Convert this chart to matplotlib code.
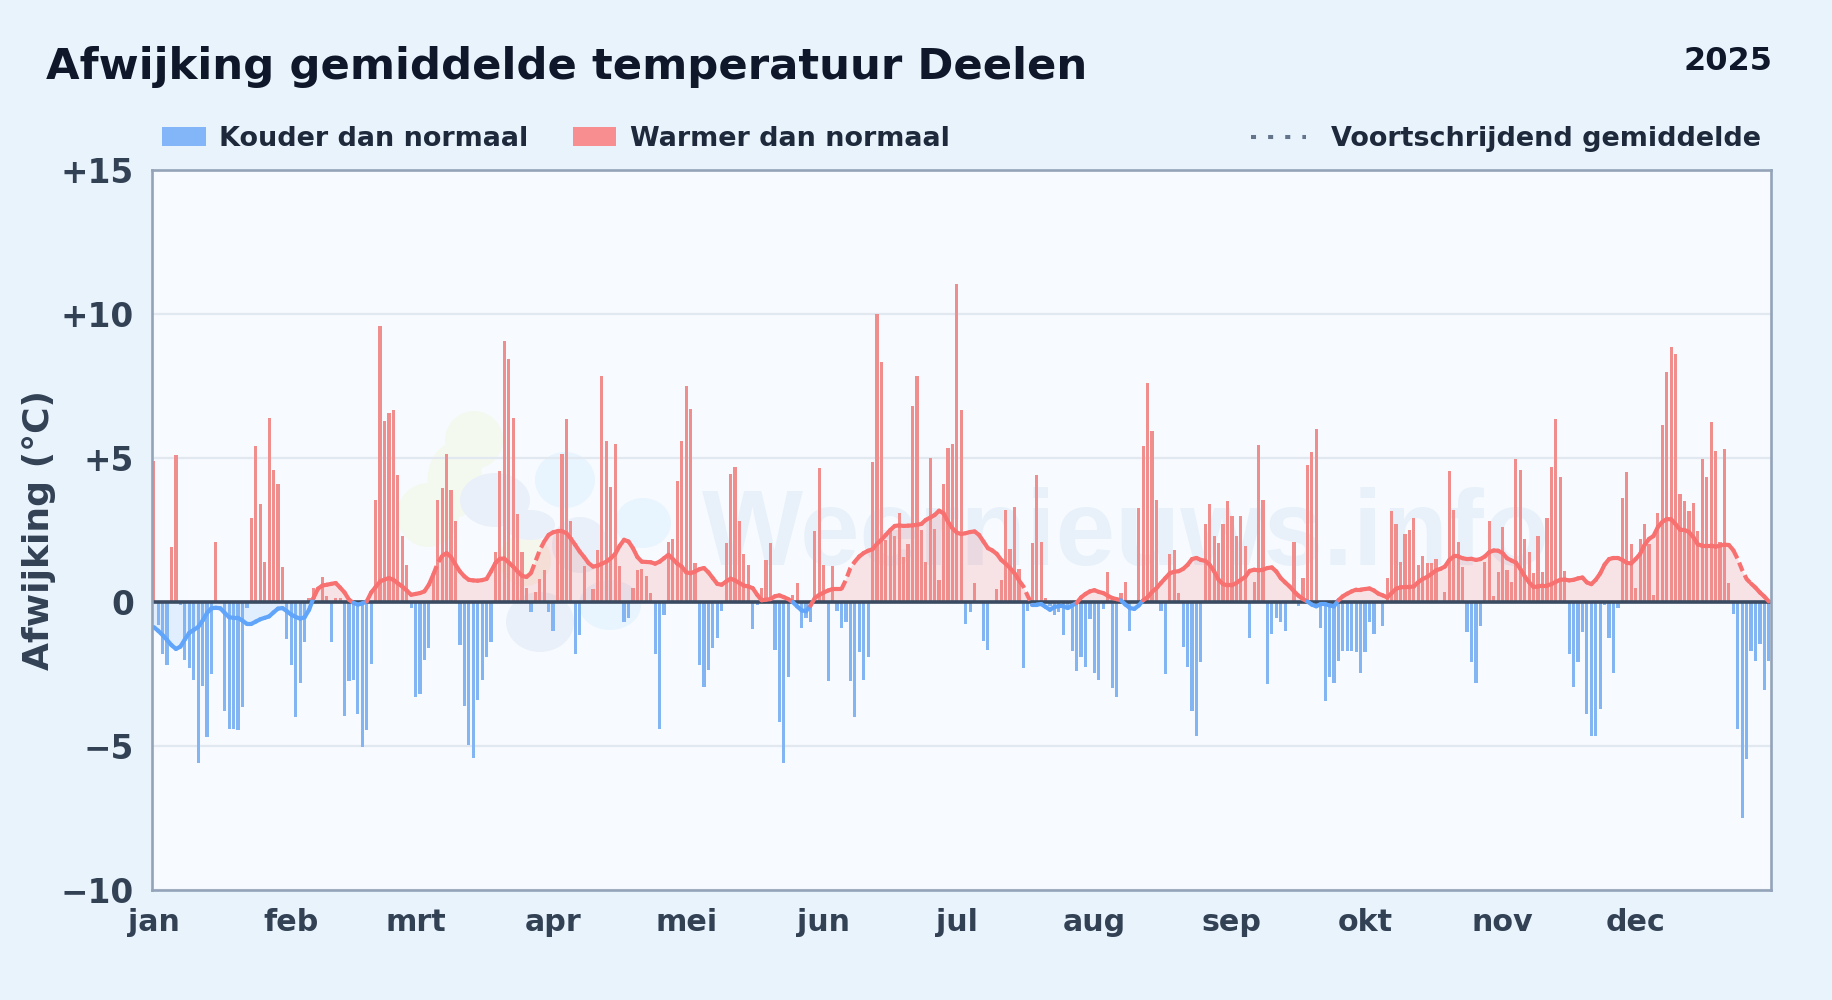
import matplotlib
matplotlib.use("Agg")
import matplotlib.pyplot as plt
import numpy as np
from matplotlib.patches import Ellipse, Rectangle
from matplotlib.lines import Line2D
from matplotlib.transforms import IdentityTransform

title = "Afwijking gemiddelde temperatuur Deelen"
year = "2025"
ylabel = "Afwijking (°C)"
month_labels = ["jan", "feb", "mrt", "apr", "mei", "jun", "jul", "aug", "sep", "okt", "nov", "dec"]
month_starts = [0, 31, 59, 90, 120, 151, 181, 212, 243, 273, 304, 334]
ytick_values = [-10, -5, 0, 5, 10, 15]
ytick_labels = ["\u221210", "\u22125", "0", "+5", "+10", "+15"]
legend_cold = "Kouder dan normaal"
legend_warm = "Warmer dan normaal"
legend_avg = "Voortschrijdend gemiddelde"
watermark = "Weernieuws.info"

daily = [
 4.9,-0.8,-1.8,-2.2,1.9,5.1,-0.1,-2.0,-2.3,-2.7,
 -5.6,-2.9,-4.7,-2.5,2.1,0.0,-3.8,-4.4,-4.4,-4.45,
 -3.65,-0.2,2.9,5.4,3.4,1.4,6.4,4.6,4.1,1.2,
 -1.3,-2.2,-4.0,-2.8,-1.4,0.15,0.5,0.0,0.87,0.2,
 -1.4,0.15,0.15,-3.95,-2.75,-2.7,-3.9,-5.05,-4.45,-2.15,
 3.55,9.6,6.3,6.55,6.65,4.4,2.3,1.3,-0.2,-3.3,
 -3.2,-2.0,-1.6,0.9,3.55,3.95,5.15,3.9,2.8,-1.5,
 -3.6,-4.95,-5.4,-3.4,-2.7,-1.9,-1.4,1.75,4.55,9.05,
 8.45,6.4,3.05,1.75,0.5,-0.35,0.33,0.8,1.1,-0.35,
 -1.0,2.4,5.15,6.35,2.8,-1.8,-1.15,1.25,0.0,0.45,
 1.8,7.85,5.6,4.0,5.5,1.25,-0.7,-0.55,0.5,1.1,
 1.15,0.9,0.3,-1.8,-4.4,-0.45,2.1,2.2,4.2,5.6,
 7.5,6.7,1.35,-2.2,-2.95,-2.35,-1.6,-1.25,-0.3,2.05,
 4.45,4.7,2.8,1.65,1.3,-0.95,-0.1,0.5,1.45,2.05,
 -1.65,-4.15,-5.6,-2.6,0.25,0.65,-0.9,-0.55,-0.7,2.45,
 4.65,1.3,-2.75,1.25,-0.3,-0.9,-0.7,-2.75,-4.0,-1.75,
 -2.7,-1.9,4.85,10.0,8.35,2.15,2.55,2.3,3.1,1.55,
 2.0,6.8,7.85,2.5,1.4,5.0,2.55,0.75,4.1,5.35,
 5.5,11.05,6.65,-0.75,-0.35,0.65,0.0,-1.35,-1.65,0.0,
 0.45,0.75,3.2,1.85,3.3,1.15,-2.3,-0.3,2.05,4.4,
 2.1,0.15,-0.15,-0.45,-0.35,-1.15,-0.25,-1.7,-2.4,-1.9,
 -2.25,-0.6,-2.45,-2.7,-0.25,1.05,-3.0,-3.3,0.3,0.7,
 -1.0,0.0,3.25,5.4,7.6,5.95,3.55,-0.3,-2.5,1.65,
 1.8,0.3,-1.55,-2.25,-3.8,-4.65,-2.1,2.7,3.4,2.3,
 2.05,2.7,3.5,3.0,2.3,3.0,1.95,-1.25,0.7,5.45,
 3.55,-2.85,-1.1,-0.55,-0.7,-1.0,0.0,2.1,-0.15,0.85,
 4.75,5.2,6.0,-0.9,-3.45,-2.6,-2.8,-2.05,-1.7,-1.7,
 -1.7,-1.75,-2.45,-1.75,-0.7,-1.1,0.0,-0.85,0.85,3.15,
 2.7,1.4,2.35,2.5,2.9,1.3,1.6,1.35,1.35,1.5,
 0.0,0.35,4.55,3.2,2.1,1.2,-1.05,-2.1,-2.8,-0.85,
 1.4,2.8,0.2,1.05,2.6,1.1,0.7,4.95,4.6,2.2,
 1.75,1.0,2.3,1.05,2.9,4.7,6.35,4.35,1.08,-1.8,
 -2.95,-2.1,-1.05,-3.9,-4.65,-4.65,-3.7,-0.12,-1.25,-2.45,
 -0.2,3.6,4.5,2.0,0.5,2.2,2.7,2.0,0.25,3.1,
 6.15,8.0,8.85,8.6,3.75,3.5,3.15,3.45,2.45,4.95,
 4.35,6.25,5.25,2.1,5.3,0.65,-0.4,-4.4,-7.5,-5.45,
 -1.7,-2.05,-1.45,-3.05,-2.05,
]

moving_avg = [
 -0.87,-1.0,-1.15,-1.32,-1.5,-1.63,-1.55,-1.3,-1.07,-0.97,
 -0.87,-0.65,-0.38,-0.22,-0.2,-0.22,-0.38,-0.53,-0.55,-0.55,
 -0.65,-0.76,-0.76,-0.68,-0.6,-0.55,-0.5,-0.36,-0.23,-0.21,
 -0.32,-0.44,-0.52,-0.58,-0.53,-0.27,0.14,0.46,0.57,0.6,
 0.63,0.66,0.5,0.33,0.08,-0.03,-0.09,-0.05,0.02,0.33,
 0.52,0.71,0.78,0.83,0.77,0.65,0.54,0.4,0.25,0.28,
 0.31,0.37,0.6,0.95,1.35,1.6,1.7,1.56,1.3,1.06,
 0.89,0.77,0.75,0.74,0.76,0.8,1.06,1.35,1.5,1.51,
 1.37,1.23,1.06,0.91,0.87,1.0,1.4,1.8,2.1,2.33,
 2.42,2.46,2.46,2.39,2.2,1.98,1.75,1.56,1.35,1.23,
 1.26,1.33,1.4,1.52,1.67,1.95,2.16,2.1,1.87,1.56,
 1.4,1.39,1.38,1.33,1.4,1.52,1.64,1.49,1.33,1.23,
 1.03,1.0,1.06,1.14,1.18,1.03,0.83,0.63,0.6,0.71,
 0.81,0.75,0.66,0.57,0.54,0.48,0.25,0.06,0.08,0.1,
 0.2,0.23,0.17,0.1,0.0,-0.15,-0.29,-0.32,-0.13,0.14,
 0.25,0.33,0.4,0.45,0.45,0.45,0.77,1.18,1.4,1.58,
 1.7,1.78,1.83,2.02,2.16,2.33,2.5,2.64,2.66,2.64,
 2.65,2.66,2.68,2.71,2.85,2.93,3.02,3.17,3.08,2.79,
 2.56,2.41,2.36,2.39,2.43,2.45,2.33,2.1,1.87,1.79,
 1.67,1.46,1.33,1.18,1.0,0.75,0.54,0.2,-0.09,-0.09,
 -0.07,-0.17,-0.27,-0.17,-0.15,-0.15,-0.21,-0.12,-0.03,0.16,
 0.28,0.37,0.41,0.35,0.31,0.22,0.14,0.1,0.06,-0.09,
 -0.21,-0.24,-0.12,0.06,0.17,0.35,0.48,0.66,0.83,1.0,
 1.05,1.07,1.15,1.29,1.49,1.53,1.46,1.43,1.29,1.06,
 0.77,0.62,0.58,0.58,0.66,0.77,0.87,1.08,1.12,1.1,
 1.12,1.18,1.2,1.06,0.83,0.68,0.54,0.37,0.22,0.1,
 0.02,-0.09,-0.15,-0.07,-0.07,-0.12,-0.15,0.06,0.2,0.29,
 0.37,0.43,0.43,0.45,0.47,0.4,0.29,0.23,0.16,0.31,
 0.46,0.51,0.52,0.52,0.54,0.69,0.8,0.87,0.98,1.1,
 1.15,1.23,1.46,1.58,1.58,1.52,1.49,1.5,1.46,1.49,
 1.58,1.73,1.79,1.78,1.7,1.52,1.44,1.37,1.15,0.89,
 0.68,0.52,0.54,0.57,0.57,0.62,0.7,0.77,0.78,0.75,
 0.77,0.82,0.85,0.68,0.62,0.77,0.99,1.3,1.49,1.53,
 1.53,1.46,1.36,1.34,1.49,1.67,1.98,2.19,2.29,2.6,
 2.78,2.88,2.87,2.7,2.51,2.5,2.43,2.25,2.0,1.96,
 1.96,1.96,1.92,1.96,1.99,1.98,1.8,1.49,1.11,0.8,
 0.64,0.5,0.33,0.19,0.02,
]
assert len(daily) == 365, len(daily)
assert len(moving_avg) == 365, len(moving_avg)

dashed_ranges = [(63, 65), (85, 88), (155, 158), (195, 198), (356, 360)]

BG = "#e8f3fc"
PLOT_BG = "#f7fbff"
RED = "#f87171"
BLUE = "#60a5fa"
BAR_RED = "#f08d8d"
BAR_BLUE = "#82b5f1"
TEXT_DARK = "#0f172a"
TEXT_MID = "#1e293b"
TEXT_AXIS = "#334155"
SPINE = "#94a3b8"

W, H = 1832, 1000
fig = plt.figure(figsize=(W / 100, H / 100), dpi=100, facecolor=BG)
plt.rcParams["font.family"] = "DejaVu Sans"
ax = fig.add_axes([152 / W, 110 / H, (1771 - 152) / W, 720 / H], facecolor=PLOT_BG)

days = np.arange(len(daily))
d = np.array(daily)
ma = np.array(moving_avg)

# watermark logo + text
identity = IdentityTransform()
GREEN_BLOB = "#f3f9ee"
LIGHT_BLOB = "#e8f4fe"
DARK_BLOB = "#e9f0f9"
blobs = [
    (474, 440, 58, 58, GREEN_BLOB), (428, 515, 62, 64, GREEN_BLOB), (455, 480, 55, 75, GREEN_BLOB),
    (525, 560, 52, 52, "#f5f7ec"),
    (565, 480, 60, 56, LIGHT_BLOB), (643, 523, 56, 50, LIGHT_BLOB), (610, 605, 62, 50, LIGHT_BLOB),
    (495, 500, 70, 54, DARK_BLOB), (530, 525, 50, 30, DARK_BLOB), (580, 545, 56, 56, DARK_BLOB),
    (540, 622, 68, 60, DARK_BLOB),
]
for bx, by, bw, bh, bc in blobs:
    ax.add_patch(Ellipse((bx, H - by), bw, bh, transform=identity, facecolor=bc, edgecolor="none", zorder=0.5))
ax.text(702 / W, (H - 565) / H, watermark, transform=fig.transFigure, ha="left", va="baseline",
        fontsize=77, fontweight="bold", family="Liberation Sans", color="#e8f1fa", zorder=0.6)

ax.set_xlim(-0.4, 364.5)
ax.set_ylim(-10, 15)

ax.yaxis.grid(True, color="#e2e8f0", lw=1.6, zorder=1)
ax.set_axisbelow(True)

ax.fill_between(days, 0, ma, where=ma >= 0, interpolate=True, color=RED, alpha=0.18, lw=0, zorder=1.5)
ax.fill_between(days, 0, ma, where=ma <= 0, interpolate=True, color=BLUE, alpha=0.15, lw=0, zorder=1.5)

ax.bar(days[d >= 0], d[d >= 0], width=0.72, color=BAR_RED, lw=0, zorder=2)
ax.bar(days[d < 0], d[d < 0], width=0.72, color=BAR_BLUE, lw=0, zorder=2)

ax.axhline(0, color="#3a4a60", lw=2.6, zorder=3)

# moving average, solid with short dashed stretches, coloured by sign
dash_mask = np.zeros(len(ma), dtype=bool)
for a, b in dashed_ranges:
    dash_mask[a:b + 1] = True
for i in range(len(ma) - 1):
    xs = [days[i], days[i + 1]]
    ys = [ma[i], ma[i + 1]]
    col = RED if (ma[i] + ma[i + 1]) / 2 >= 0 else BLUE
    if dash_mask[i] and dash_mask[i + 1]:
        continue
    ax.plot(xs, ys, color=col, lw=3.0, solid_capstyle="round", zorder=4)
for a, b in dashed_ranges:
    ax.plot(days[a:b + 1], ma[a:b + 1], color=RED, lw=3.0, dashes=(2.2, 1.1), zorder=4)

for s in ax.spines.values():
    s.set_color(SPINE)
    s.set_linewidth(1.9)
    s.set_zorder(5)

ax.set_xticks(month_starts)
ax.set_xticklabels(month_labels, fontsize=21.7, fontweight="bold", color=TEXT_AXIS)
ax.set_yticks(ytick_values)
ax.set_yticklabels(ytick_labels, fontsize=23.6, fontweight="bold", color=TEXT_AXIS)
ax.tick_params(axis="both", length=0)
ax.tick_params(axis="y", pad=13)
ax.tick_params(axis="x", pad=13)
fig.text(39 / W, (H - 530) / H, ylabel, rotation=90, ha="center", va="center",
         fontsize=26, fontweight="bold", color=TEXT_AXIS)

fig.text(46 / W, (H - 67) / H, title, ha="left", va="center", fontsize=31.2, fontweight="bold", color=TEXT_DARK)
fig.text(1772 / W, (H - 61) / H, year, ha="right", va="center", fontsize=23, fontweight="bold", color=TEXT_DARK)

# legend
fig.add_artist(Rectangle((162 / W, (H - 146) / H), 44 / W, 19 / H, transform=fig.transFigure,
                         facecolor="#82b6f8", edgecolor="none"))
fig.text(219 / W, (H - 139) / H, legend_cold, ha="left", va="center", fontsize=19.45, fontweight="bold", color=TEXT_MID)
fig.add_artist(Rectangle((573 / W, (H - 146) / H), 43 / W, 19 / H, transform=fig.transFigure,
                         facecolor="#f98e90", edgecolor="none"))
fig.text(630 / W, (H - 139) / H, legend_warm, ha="left", va="center", fontsize=19.45, fontweight="bold", color=TEXT_MID)
fig.add_artist(Line2D([1251 / W, 1306 / W], [(H - 137) / H] * 2, transform=fig.transFigure, color="#64748b",
                      lw=2.9, dashes=(1.25, 3.0)))
fig.text(1761 / W, (H - 139) / H, legend_avg, ha="right", va="center", fontsize=19.45, fontweight="bold", color=TEXT_MID)

fig.savefig("out.png", dpi=100, facecolor=BG)
